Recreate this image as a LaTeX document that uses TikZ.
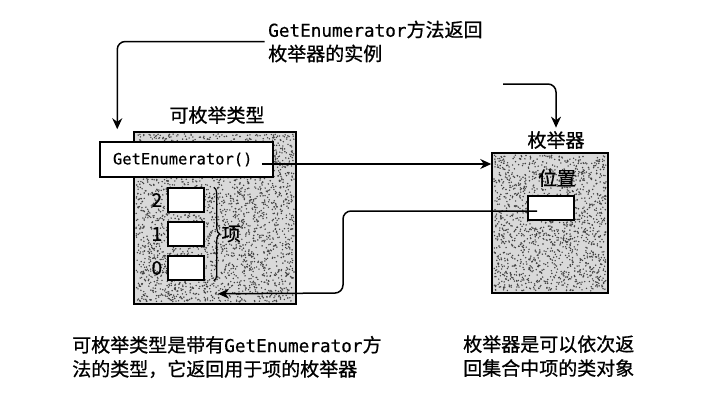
\documentclass[tikz,border=0pt]{standalone}
\usepackage{fontspec}
\setmainfont{Noto Sans CJK SC}[FakeBold=0.8]
\setmonofont{DejaVu Sans Mono}[Scale=0.93, FakeBold=0.6]
\usepackage{tikz}
\usetikzlibrary{arrows.meta,positioning,calc,decorations.pathreplacing}

\begin{document}
\begin{tikzpicture}[
    x=1pt, y=-1pt,
    font=\fontsize{19}{24}\selectfont,
    box/.style={rectangle, draw, line width=1.5pt, inner sep=0pt},
    speckled/.style={box, fill=black!15},
    slot/.style={box, fill=white, minimum width=36pt, minimum height=24pt},
    line/.style={line width=1.5pt, rounded corners=8pt},
    arr/.style={line, -{Stealth[length=11pt,width=10pt]}},
    brace/.style={decorate, decoration={brace, amplitude=6pt}, line width=1.2pt},
    dot/.style={fill=black!75}
]
\useasboundingbox (0,0) rectangle (722,400);

% the two types, with their speckled grey fill
\node[speckled, minimum width=162pt, minimum height=172pt] (enumerable) at (215,218) {};
\node[speckled, minimum width=116pt, minimum height=140pt] (enumerator) at (550,223) {};
\pgfmathsetseed{42}
\foreach \i in {1,...,2600}
  \fill[dot] (136+158*rnd, 134+168*rnd) circle[radius=0.8pt];
\foreach \i in {1,...,1550}
  \fill[dot] (494+112*rnd, 155+136*rnd) circle[radius=0.8pt];

\node (enumerable-label) at (217,115) {可枚举类型};
\node (enumerator-label) at (556,140) {枚举器};

% method box
\node[box, fill=white, minimum height=35pt, text width=147pt, inner xsep=13pt, align=left,
      font=\fontsize{16.6}{20}\ttfamily] (getenum) at (186.5,159.5) {GetEnumerator()};

% items
\foreach \n/\y in {2/200, 1/234, 0/268} {
  \node[slot] (item\n) at (186,\y) {};
  \node[left=5pt of item\n, inner sep=0pt] (index\n) {\n};
}
\draw[brace] ([xshift=9pt]item2.north east) -- ([xshift=9pt]item0.south east)
  node[midway, right=4pt] (items-label) {项};

% position inside the enumerator
\node (pos-label) at (557,178) {位置};
\node[box, fill=white, minimum width=46pt, minimum height=24pt] (pos) at (551,208) {};

% notes
\node[anchor=west, align=left] (note) at (264.7,41.5) {\texttt{GetEnumerator}方法返回\\枚举器的实例};
\node[anchor=west, align=left] (enumerable-note) at (68.7,357) {可枚举类型是带有\texttt{GetEnumerator}方\\法的类型，它返回用于项的枚举器};
\node[anchor=west, align=left] (enumerator-note) at (459.7,356) {枚举器是可以依次返\\回集合中项的类对象};

% connectors
\coordinate (drop) at ([shift={(18pt,12pt)}]getenum.north west);
\coordinate (lead) at (503,84);
\coordinate (call) at ([shift={(-12pt,-4.5pt)}]getenum.east);
\coordinate (back) at ([shift={(-14pt,-3pt)}]pos.center);
\coordinate (turn) at (343,293);
\draw[arr] (note.west) -| (drop);
\draw[arr] (lead) -| (enumerator-label.north);
\draw[arr] (call) -- (call -| enumerator.west);
\draw[arr] (back) -| (turn) -- ([shift={(3pt,11pt)}]enumerable.south);

\end{tikzpicture}
\end{document}
